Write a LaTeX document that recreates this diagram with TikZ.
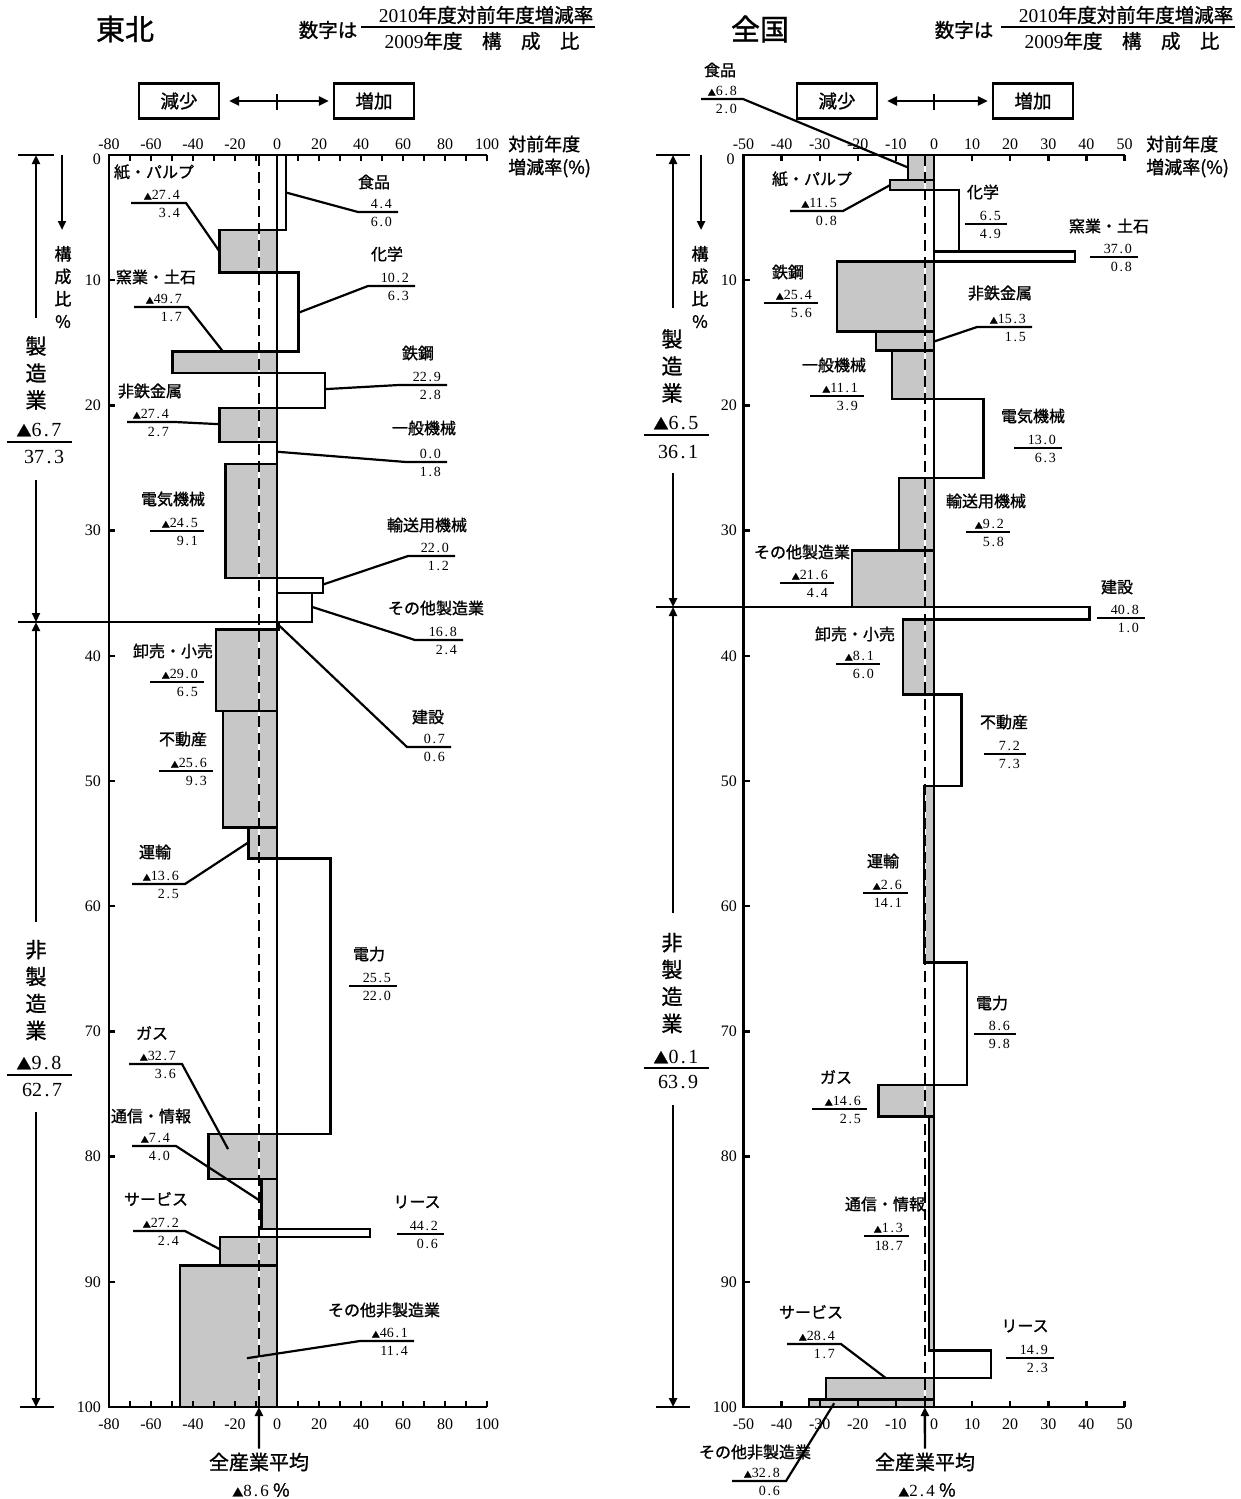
\documentclass[tikz,border=0pt]{standalone}
\usepackage{fontspec}
\setmainfont{Liberation Serif}
\newfontfamily\cjk{Noto Sans CJK JP}[FakeBold=1.2]
\usepackage{tikz}
\usetikzlibrary{arrows.meta}

\newcommand\ttlfont{\cjk\fontsize{16}{18}\selectfont}
\newcommand\numfont{\fontsize{14}{16}\selectfont}
\newcommand\tickfont{\fontsize{16}{18}\selectfont}
\newcommand\hdfont{\cjk\fontsize{19.5}{22}\selectfont}
\newcommand\tri{{\cjk\fontsize{8}{8}\selectfont ▲}}
\newcommand\bigtri{{\cjk\fontsize{15}{15}\selectfont ▲}}
\def\vvsplit#1.#2\relax{#1\hbox to .5em{\hss.\hss}#2}
\newcommand\vv[1]{\vvsplit#1\relax}
% name, x, y, width, numerator, denominator
\newcommand\frc[6]{%
  \node[frc=#4pt] (#1) at (#2,#3) {};
  \node[numl] (#1-u) at (#1.east) {\vv{#5}};
  \node[denl] (#1-d) at (#1.east) {\vv{#6}};}

\tikzset{
  axisln/.style={line width=2.6pt},
  tk/.style={line width=2.4pt},
  barln/.style={line width=2.4pt},
  negfill/.style={fill=black!22},
  leadln/.style={line width=2.2pt},
  avgln/.style={line width=2.2pt, dash pattern=on 11pt off 6pt},
  ttl/.style={font=\ttlfont, inner sep=0pt},
  frc/.style={minimum width=#1, minimum height=0pt, inner sep=0pt, outer sep=0pt},
  numl/.style={anchor=south east, xshift=-6pt, yshift=3pt, inner sep=0pt, font=\numfont},
  denl/.style={anchor=north east, xshift=-6pt, yshift=-5pt, inner sep=0pt, font=\numfont},
  tickl/.style={font=\tickfont, inner sep=0pt},
  keybox/.style={draw, line width=2.4pt, minimum width=80pt, minimum height=35pt, inner sep=0pt, font=\cjk\fontsize{18.5}{20}\selectfont},
  brk/.style={line width=2.4pt, -{Triangle[length=9pt,width=8pt]}},
  dbl/.style={line width=2.4pt, {Triangle[length=10pt,width=9pt]}-{Triangle[length=10pt,width=9pt]}},
  vt/.style={align=center, inner sep=0pt, font=\cjk\fontsize{21}{27}\selectfont},
  vts/.style={align=center, inner sep=0pt, font=\cjk\fontsize{17}{22.5}\selectfont},
  bnum/.style={inner sep=0pt, font=\fontsize{20}{22}\selectfont},
  axt/.style={anchor=west, inner sep=0pt, font=\cjk\fontsize{18}{20}\selectfont},
  avgl/.style={inner sep=0pt, font=\cjk\fontsize{20}{22}\selectfont},
}

\begin{document}
\begin{tikzpicture}[x=1pt, y=-1pt]
\useasboundingbox (0,0) rectangle (1240,1499);

%% ---------------- Tohoku ----------------
\node[font=\cjk\fontsize{29}{32}\selectfont, inner sep=0pt] (t-head) at (125,29) {東北};
\node[font=\hdfont, inner sep=0pt] (t-key-l) at (328,30) {数字は};
\node[frc=234pt] (t-key) at (478,27) {};
\draw[leadln] (t-key.west) -- (t-key.east);
\node[font=\hdfont, inner sep=0pt] (t-key-u) at (486,15) {{\rmfamily 2010}年度対前年度増減率};
\node[font=\hdfont, inner sep=0pt] (t-key-d) at (482,41) {{\rmfamily 2009}年度　構　成　比};

\node[keybox] (t-dec) at (179,101) {減少};
\node[keybox] (t-inc) at (374,101) {増加};
\draw[dbl, shorten <=9pt, shorten >=4pt] (t-dec) -- (t-inc);
\coordinate (t-zero) at (277,102);
\draw[tk] ([yshift=8pt]t-zero) -- ([yshift=-8pt]t-zero);

\node[axt] (t-ax-u) at (508,144) {対前年度};
\node[axt] (t-ax-d) at (508,168) {増減率(\%)};

\begin{scope}[shift={(277,155)}, x=2.1pt, y=-12.52pt]
  \def\tneg{6.0/9.4/-27.4, 15.7/17.4/-49.7, 20.2/22.9/-27.4, 24.7/33.8/-24.5,
    37.9/44.4/-29.0, 44.4/53.7/-25.6, 53.7/56.2/-13.6, 78.2/81.8/-32.7,
    81.8/85.8/-7.4, 86.4/88.7/-27.2, 88.7/100/-46.1}
  \def\tpos{0/6.0/4.4, 9.4/15.7/10.2, 17.4/20.2/22.9, 22.9/24.7/0.0, 33.8/35.0/22.0,
    35.0/37.3/16.8, 37.3/37.9/0.7, 56.2/78.2/25.5}
  \foreach \a/\b/\w in \tneg \fill[negfill] (0,\a) rectangle (\w,\b);
  \draw[white, line width=2.2pt] (-8.6,0) -- (-8.6,100);
  \foreach \a/\b/\w in \tneg \draw[barln] (0,\a) rectangle (\w,\b);
  \foreach \a/\b/\w in \tpos \draw[barln] (0,\a) rectangle (\w,\b);
  \draw[barln, fill=white] (-8.6,85.8) rectangle (44.2,86.4);
  \draw[barln] (0,0) -- (0,100);
  \draw[avgln] (-8.6,0) -- (-8.6,100);
  \draw[axisln] (100,0) -- (-80,0) -- (-80,100) -- (100,100);
  \foreach \x in {-70,-60,...,100} {
    \draw[tk] (\x,0) -- ++(0pt,-6pt);
    \draw[tk] (\x,100) -- ++(0pt,6pt);
  }
  \foreach \y in {10,20,...,90} \draw[tk] (-80,\y) -- ++(6pt,0pt);
  \foreach \x in {-80,-60,...,100} {
    \node[tickl] (t-xt\x) at (\x,-0.85) {\x};
    \node[tickl] (t-xb\x) at (\x,101.4) {\x};
  }
  \node[tickl, anchor=east] (t-y0) at (-83.8,0.3) {0};
  \foreach \y in {10,20,...,100} \node[tickl, anchor=east] (t-y\y) at (-83.8,\y) {\y};
  \draw[axisln] (-123.3,37.3) -- (16.8,37.3);

  \coordinate (t-kami-b) at (-27.4,7.7);
  \coordinate (t-shoku-b) at (4.4,3.0);
  \coordinate (t-kagaku-b) at (10.2,12.6);
  \coordinate (t-yogyo-b) at (-25.7,15.7);
  \coordinate (t-tekko-b) at (22.9,18.7);
  \coordinate (t-hitetsu-b) at (-27.4,21.5);
  \coordinate (t-ippan-b) at (0,23.7);
  \coordinate (t-yuso-b) at (22.0,34.3);
  \coordinate (t-sonota-b) at (16.8,36.1);
  \coordinate (t-kensetsu-b) at (0.5,37.5);
  \coordinate (t-unyu-b) at (-13.6,54.9);
  \coordinate (t-gas-b) at (-23.3,79.4);
  \coordinate (t-tsushin-b) at (-7.4,83.6);
  \coordinate (t-service-b) at (-27.2,87.4);
  \coordinate (t-sonotahi-b) at (-14.3,96.1);
  \coordinate (t-avgb) at (-8.6,100);
\end{scope}

% labels
\node[ttl] (t-kami-t) at (154,172) {紙・パルプ};
\frc{t-kami}{158.5}{203}{55}{\tri27.4}{3.4}
\node[ttl] (t-shoku-t) at (374,182) {食品};
\frc{t-shoku}{378}{212}{40}{4.4}{6.0}
\node[ttl] (t-kagaku-t) at (387,254) {化学};
\frc{t-kagaku}{391.5}{286}{47}{10.2}{6.3}
\node[ttl] (t-yogyo-t) at (156,277) {窯業・土石};
\frc{t-yogyo}{161}{307}{54}{\tri49.7}{1.7}
\node[ttl] (t-tekko-t) at (418,353) {鉄鋼};
\frc{t-tekko}{423}{385}{48}{22.9}{2.8}
\node[ttl] (t-hitetsu-t) at (150,391) {非鉄金属};
\frc{t-hitetsu}{151}{422}{48}{\tri27.4}{2.7}
\node[ttl] (t-ippan-t) at (424,428) {一般機械};
\frc{t-ippan}{426.5}{462}{41}{0.0}{1.8}
\node[ttl] (t-denki-t) at (173,499) {電気機械};
\frc{t-denki}{177}{531}{54}{\tri24.5}{9.1}
\node[ttl] (t-yuso-t) at (427,525) {輸送用機械};
\frc{t-yuso}{431.5}{556}{47}{22.0}{1.2}
\node[ttl] (t-sonota-t) at (436,608) {その他製造業};
\frc{t-sonota}{439}{640}{48}{16.8}{2.4}
\node[ttl] (t-kensetsu-t) at (428,717) {建設};
\frc{t-kensetsu}{429}{747}{44}{0.7}{0.6}
\node[ttl] (t-oroshi-t) at (173,651) {卸売・小売};
\frc{t-oroshi}{177}{682}{54}{\tri29.0}{6.5}
\node[ttl] (t-fudosan-t) at (183,739) {不動産};
\frc{t-fudosan}{186}{771}{54}{\tri25.6}{9.3}
\node[ttl] (t-unyu-t) at (155,852) {運輸};
\frc{t-unyu}{158.5}{884}{53}{\tri13.6}{2.5}
\node[ttl] (t-denryoku-t) at (369,954) {電力};
\frc{t-denryoku}{373}{986}{48}{25.5}{22.0}
\node[ttl] (t-gas-t) at (152,1033) {ガス};
\frc{t-gas}{155.5}{1064}{53}{\tri32.7}{3.6}
\node[ttl] (t-tsushin-t) at (151,1116) {通信・情報};
\frc{t-tsushin}{154}{1146}{44}{\tri7.4}{4.0}
\node[ttl] (t-service-t) at (156,1199) {サービス};
\frc{t-service}{159}{1231}{52}{\tri27.2}{2.4}
\node[ttl] (t-lease-t) at (417,1202) {リース};
\frc{t-lease}{420.5}{1234}{47}{44.2}{0.6}
\node[ttl] (t-sonotahi-t) at (384,1310) {その他非製造業};
\frc{t-sonotahi}{387}{1341}{54}{\tri46.1}{11.4}

% leaders
\draw[leadln] (t-kami.west) -- (t-kami.east) -- (t-kami-b);
\draw[leadln] (t-shoku.east) -- (t-shoku.west) -- (t-shoku-b);
\draw[leadln] (t-kagaku.east) -- (t-kagaku.west) -- (t-kagaku-b);
\draw[leadln] (t-yogyo.west) -- (t-yogyo.east) -- (t-yogyo-b);
\draw[leadln] (t-tekko.east) -- (t-tekko.west) -- (t-tekko-b);
\draw[leadln] (t-hitetsu.west) -- (t-hitetsu.east) -- (t-hitetsu-b);
\draw[leadln] (t-ippan.east) -- (t-ippan.west) -- (t-ippan-b);
\draw[leadln] (t-denki.west) -- (t-denki.east);
\draw[leadln] (t-yuso.east) -- (t-yuso.west) -- (t-yuso-b);
\draw[leadln] (t-sonota.east) -- (t-sonota.west) -- (t-sonota-b);
\draw[leadln] (t-kensetsu.east) -- (t-kensetsu.west) -- (t-kensetsu-b);
\draw[leadln] (t-oroshi.west) -- (t-oroshi.east);
\draw[leadln] (t-fudosan.west) -- (t-fudosan.east);
\draw[leadln] (t-unyu.west) -- (t-unyu.east) -- (t-unyu-b);
\draw[leadln] (t-denryoku.west) -- (t-denryoku.east);
\draw[leadln] (t-gas.west) -- (t-gas.east) -- (t-gas-b);
\draw[leadln] (t-tsushin.west) -- (t-tsushin.east) -- (t-tsushin-b);
\draw[leadln] (t-service.west) -- (t-service.east) -- (t-service-b);
\draw[leadln] (t-lease.west) -- (t-lease.east);
\draw[leadln] (t-sonotahi.east) -- (t-sonotahi.west) -- (t-sonotahi-b);

% brackets
\draw[axisln] (18,155) -- (54,155);
\draw[brk] (36,318) -- (36,155);
\draw[brk] (62,155) -- (62,230);
\node[vts] (t-kosei) at (63,287) {構\\成\\比\\\%};
\node[vt] (t-seizo) at (36,373) {製\\造\\業};
\node[bnum] (t-seizo-u) at (39,430) {\bigtri\vv{6.7}};
\node[frc=65pt] (t-seizo-f) at (39,442) {};
\draw[axisln] (t-seizo-f.west) -- (t-seizo-f.east);
\node[bnum] (t-seizo-d) at (44,457) {\vv{37.3}};
\draw[brk] (36,480) -- (36,622);
\draw[brk] (36,922) -- (36,622);
\node[vt] (t-hiseizo) at (36,990) {非\\製\\造\\業};
\node[bnum] (t-hiseizo-u) at (39,1063) {\bigtri\vv{9.8}};
\node[frc=65pt] (t-hiseizo-f) at (39,1075) {};
\draw[axisln] (t-hiseizo-f.west) -- (t-hiseizo-f.east);
\node[bnum] (t-hiseizo-d) at (42,1090) {\vv{62.7}};
\draw[brk] (36,1112) -- (36,1407);
\draw[axisln] (20,1407) -- (54,1407);

\node[avgl] (t-avg) at (259,1462) {全産業平均};
\node[inner sep=0pt, font=\fontsize{17}{19}\selectfont] (t-avgv) at (261,1490) {{\cjk\fontsize{11}{11}\selectfont ▲}\vv{8.6} {\cjk\fontsize{18}{18}\selectfont\%}};
\draw[brk, shorten <=4pt] (t-avg.north) -- (t-avgb);

%% ---------------- Zenkoku ----------------
\node[font=\cjk\fontsize{29}{32}\selectfont, inner sep=0pt] (z-head) at (760,29) {全国};
\node[font=\hdfont, inner sep=0pt] (z-key-l) at (964,30) {数字は};
\node[frc=234pt] (z-key) at (1118,27) {};
\draw[leadln] (z-key.west) -- (z-key.east);
\node[font=\hdfont, inner sep=0pt] (z-key-u) at (1126,15) {{\rmfamily 2010}年度対前年度増減率};
\node[font=\hdfont, inner sep=0pt] (z-key-d) at (1122,41) {{\rmfamily 2009}年度　構　成　比};

\node[keybox] (z-dec) at (837,101) {減少};
\node[keybox] (z-inc) at (1033,101) {増加};
\draw[dbl, shorten <=9pt, shorten >=4pt] (z-dec) -- (z-inc);
\coordinate (z-zero) at (934,102);
\draw[tk] ([yshift=8pt]z-zero) -- ([yshift=-8pt]z-zero);

\node[axt] (z-ax-u) at (1146,144) {対前年度};
\node[axt] (z-ax-d) at (1146,168) {増減率(\%)};

\begin{scope}[shift={(934,155)}, x=3.81pt, y=-12.52pt]
  \def\zneg{0/2.0/-6.8, 2.0/2.8/-11.5, 8.5/14.1/-25.4, 14.1/15.6/-15.3, 15.6/19.5/-11.1,
    25.8/31.6/-9.2, 31.6/36.1/-21.6, 37.1/43.1/-8.1, 50.4/64.5/-2.6, 74.3/76.8/-14.6,
    76.8/95.5/-1.3, 97.7/99.4/-28.4, 99.4/100/-32.8}
  \def\zpos{2.8/7.7/6.5, 7.7/8.5/37.0, 19.5/25.8/13.0, 36.1/37.1/40.8, 43.1/50.4/7.2,
    64.5/74.3/8.6, 95.5/97.7/14.9}
  \foreach \a/\b/\w in \zneg \fill[negfill] (0,\a) rectangle (\w,\b);
  \draw[white, line width=2.2pt] (-2.4,0) -- (-2.4,100);
  \foreach \a/\b/\w in \zneg \draw[barln] (0,\a) rectangle (\w,\b);
  \foreach \a/\b/\w in \zpos \draw[barln] (0,\a) rectangle (\w,\b);
  \draw[barln] (0,0) -- (0,100);
  \draw[avgln] (-2.4,0) -- (-2.4,100);
  \draw[axisln] (50,0) -- (-50,0) -- (-50,100) -- (50,100);
  \foreach \x in {-40,-30,...,50} {
    \draw[tk] (\x,0) -- ++(0pt,-6pt);
    \draw[tk] (\x,100) -- ++(0pt,6pt);
  }
  \foreach \y in {10,20,...,90} \draw[tk] (-50,\y) -- ++(6pt,0pt);
  \foreach \x in {-50,-40,...,50} {
    \node[tickl] (z-xt\x) at (\x,-0.85) {\x};
    \node[tickl] (z-xb\x) at (\x,101.4) {\x};
  }
  \node[tickl, anchor=east] (z-y0) at (-52.3,0.3) {0};
  \foreach \y in {10,20,...,100} \node[tickl, anchor=east] (z-y\y) at (-51.7,\y) {\y};
  \draw[axisln] (-73,36.1) -- (40.8,36.1);

  \coordinate (z-shoku-b) at (-6.8,1.0);
  \coordinate (z-kami-b) at (-11.5,2.4);
  \coordinate (z-hitetsu-b) at (0,14.9);
  \coordinate (z-service-b) at (-12.6,97.7);
  \coordinate (z-sonotahi-b) at (-26.2,99.7);
  \coordinate (z-avgb) at (-2.4,100);
\end{scope}

% labels
\node[ttl] (z-shoku-t) at (720,70) {食品};
\frc{z-shoku}{722}{99}{42}{\tri6.8}{2.0}
\node[ttl] (z-kami-t) at (812,179) {紙・パルプ};
\frc{z-kami}{816.5}{211}{53}{\tri11.5}{0.8}
\node[ttl] (z-kagaku-t) at (983,192) {化学};
\frc{z-kagaku}{986}{224}{42}{6.5}{4.9}
\node[ttl] (z-yogyo-t) at (1109,226) {窯業・土石};
\frc{z-yogyo}{1114}{257}{48}{37.0}{0.8}
\node[ttl] (z-tekko-t) at (788,272) {鉄鋼};
\frc{z-tekko}{791}{303}{54}{\tri25.4}{5.6}
\node[ttl] (z-hitetsu-t) at (1000,293) {非鉄金属};
\frc{z-hitetsu}{1004.5}{327}{55}{\tri15.3}{1.5}
\node[ttl] (z-ippan-t) at (834,365) {一般機械};
\frc{z-ippan}{837}{396}{54}{\tri11.1}{3.9}
\node[ttl] (z-denki-t) at (1033,416) {電気機械};
\frc{z-denki}{1038}{448}{48}{13.0}{6.3}
\node[ttl] (z-yuso-t) at (986,501) {輸送用機械};
\frc{z-yuso}{988}{532}{44}{\tri9.2}{5.8}
\node[ttl] (z-sonota-t) at (802,552) {その他製造業};
\frc{z-sonota}{807}{583}{54}{\tri21.6}{4.4}
\node[ttl] (z-kensetsu-t) at (1117,587) {建設};
\frc{z-kensetsu}{1121}{618}{48}{40.8}{1.0}
\node[ttl] (z-oroshi-t) at (855,634) {卸売・小売};
\frc{z-oroshi}{858}{664}{44}{\tri8.1}{6.0}
\node[ttl] (z-fudosan-t) at (1004,722) {不動産};
\frc{z-fudosan}{1005}{754}{42}{7.2}{7.3}
\node[ttl] (z-unyu-t) at (883,861) {運輸};
\frc{z-unyu}{885.5}{893}{45}{\tri2.6}{14.1}
\node[ttl] (z-denryoku-t) at (992,1003) {電力};
\frc{z-denryoku}{995}{1034}{42}{8.6}{9.8}
\node[ttl] (z-gas-t) at (836,1077) {ガス};
\frc{z-gas}{839.5}{1109}{55}{\tri14.6}{2.5}
\node[ttl] (z-tsushin-t) at (885,1204) {通信・情報};
\frc{z-tsushin}{886.5}{1236}{45}{\tri1.3}{18.7}
\node[ttl] (z-service-t) at (811,1312) {サービス};
\frc{z-service}{814}{1344}{54}{\tri28.4}{1.7}
\node[ttl] (z-lease-t) at (1025,1326) {リース};
\frc{z-lease}{1030}{1358}{48}{14.9}{2.3}
\node[ttl] (z-sonotahi-t) at (755,1452) {その他非製造業};
\frc{z-sonotahi}{759}{1481}{54}{\tri32.8}{0.6}

% leaders
\draw[leadln] (z-shoku.west) -- (z-shoku.east) -- (z-shoku-b);
\draw[leadln] (z-kami.west) -- (z-kami.east) -- (z-kami-b);
\draw[leadln] (z-kagaku.west) -- (z-kagaku.east);
\draw[leadln] (z-yogyo.west) -- (z-yogyo.east);
\draw[leadln] (z-tekko.west) -- (z-tekko.east);
\draw[leadln] (z-hitetsu.east) -- (z-hitetsu.west) -- (z-hitetsu-b);
\draw[leadln] (z-ippan.west) -- (z-ippan.east);
\draw[leadln] (z-denki.west) -- (z-denki.east);
\draw[leadln] (z-yuso.west) -- (z-yuso.east);
\draw[leadln] (z-sonota.west) -- (z-sonota.east);
\draw[leadln] (z-kensetsu.west) -- (z-kensetsu.east);
\draw[leadln] (z-oroshi.west) -- (z-oroshi.east);
\draw[leadln] (z-fudosan.west) -- (z-fudosan.east);
\draw[leadln] (z-unyu.west) -- (z-unyu.east);
\draw[leadln] (z-denryoku.west) -- (z-denryoku.east);
\draw[leadln] (z-gas.west) -- (z-gas.east);
\draw[leadln] (z-tsushin.west) -- (z-tsushin.east);
\draw[leadln] (z-service.west) -- (z-service.east) -- (z-service-b);
\draw[leadln] (z-lease.west) -- (z-lease.east);
\draw[leadln] (z-sonotahi.west) -- (z-sonotahi.east) -- (z-sonotahi-b);

% brackets
\draw[axisln] (656,155) -- (690,155);
\draw[brk] (673,308) -- (673,155);
\draw[brk] (701,155) -- (701,230);
\node[vts] (z-kosei) at (700,287) {構\\成\\比\\\%};
\node[vt] (z-seizo) at (672,366) {製\\造\\業};
\node[bnum] (z-seizo-u) at (676,423) {\bigtri\vv{6.5}};
\node[frc=65pt] (z-seizo-f) at (676.5,435) {};
\draw[axisln] (z-seizo-f.west) -- (z-seizo-f.east);
\node[bnum] (z-seizo-d) at (678,452) {\vv{36.1}};
\draw[brk] (673,473) -- (673,607);
\draw[brk] (673,913) -- (673,607);
\node[vt] (z-hiseizo) at (672,983) {非\\製\\造\\業};
\node[bnum] (z-hiseizo-u) at (676,1057) {\bigtri\vv{0.1}};
\node[frc=65pt] (z-hiseizo-f) at (676.5,1068) {};
\draw[axisln] (z-hiseizo-f.west) -- (z-hiseizo-f.east);
\node[bnum] (z-hiseizo-d) at (678,1082) {\vv{63.9}};
\draw[brk] (673,1105) -- (673,1407);
\draw[axisln] (656,1407) -- (690,1407);

\node[avgl] (z-avg) at (925,1462) {全産業平均};
\node[inner sep=0pt, font=\fontsize{17}{19}\selectfont] (z-avgv) at (927,1490) {{\cjk\fontsize{11}{11}\selectfont ▲}\vv{2.4} {\cjk\fontsize{18}{18}\selectfont\%}};
\draw[brk, shorten <=4pt] (z-avg.north) -- (z-avgb);
\end{tikzpicture}
\end{document}
